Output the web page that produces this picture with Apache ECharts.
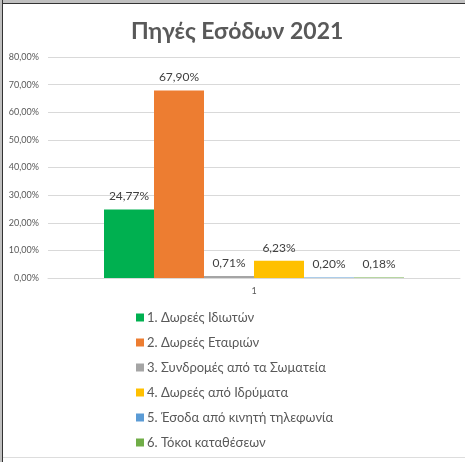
<!DOCTYPE html>
<html>
<head>
<meta charset="utf-8">
<script src="https://cdn.jsdelivr.net/npm/echarts@6/dist/echarts.min.js"></script>
<style>
  html, body { margin: 0; padding: 0; background: #fff; }
  #topbar { position: absolute; left: 0; top: 0; width: 465px; height: 3px; background: #c0c0c0; border-bottom: 1px solid #333; }
  #leftbar { position: absolute; left: 0; top: 0; width: 2px; height: 462px; background: #c0c0c0; border-right: 1px solid #333; }
  #bottomline { position: absolute; left: 3px; top: 457px; width: 462px; height: 1px; background: #ddd; }
  #chart { position: absolute; left: 0; top: 0; width: 465px; height: 462px; }
</style>
</head>
<body>
<div id="chart"></div>
<div id="topbar"></div>
<div id="leftbar"></div>
<div id="bottomline"></div>
<script>
const categories = ['1'];
const seriesNames = [
  '1. Δωρεές Ιδιωτών',
  '2. Δωρεές Εταιριών',
  '3. Συνδρομές από τα Σωματεία',
  '4. Δωρεές από Ιδρύματα',
  '5. Έσοδα από κινητή τηλεφωνία',
  '6. Τόκοι καταθέσεων'
];
const seriesValues = [24.77, 67.90, 0.71, 6.23, 0.20, 0.18];
const seriesColors = ['#00B050', '#ED7D31', '#A5A5A5', '#FFC000', '#5B9BD5', '#70AD47'];
const yTicks = { min: 0, max: 80, interval: 10 };

const fontFamily = 'Lato, "Open Sans", sans-serif';
const pct = v => v.toFixed(2).replace('.', ',') + '%';

const chart = echarts.init(document.getElementById('chart'));

chart.setOption({
  animation: false,
  textStyle: { fontFamily: fontFamily },
  title: {
    text: 'Πηγές Εσόδων 2021',
    left: 131,
    top: 20,
    padding: 0,
    textStyle: { fontSize: 23, fontWeight: 'bold', color: '#595959', fontFamily: fontFamily }
  },
  legend: {
    orient: 'vertical',
    left: 131,
    top: 306,
    itemWidth: 8,
    itemHeight: 8,
    itemGap: 12,
    icon: 'rect',
    data: seriesNames,
    textStyle: { fontSize: 13, color: '#595959', padding: [0, 0, 0, -2] }
  },
  grid: { left: 48, right: 5, top: 57, bottom: 184 },
  xAxis: {
    type: 'category',
    data: categories,
    axisLine: { lineStyle: { color: '#d9d9d9' } },
    axisTick: { show: false },
    axisLabel: { fontSize: 9, color: '#595959', margin: 9 }
  },
  yAxis: {
    type: 'value',
    min: yTicks.min,
    max: yTicks.max,
    interval: yTicks.interval,
    axisLine: { show: false },
    axisTick: { show: false },
    splitLine: { lineStyle: { color: '#d9d9d9' } },
    axisLabel: { fontSize: 9, color: '#595959', margin: 9, formatter: pct }
  },
  series: seriesNames.map((name, i) => ({
    name: name,
    type: 'bar',
    data: [seriesValues[i]],
    barWidth: 50,
    barGap: '0%',
    itemStyle: { color: seriesColors[i] },
    label: {
      show: true,
      position: 'top',
      distance: 7,
      fontSize: 12,
      color: '#404040',
      formatter: p => pct(p.value)
    }
  }))
});
</script>
</body>
</html>
